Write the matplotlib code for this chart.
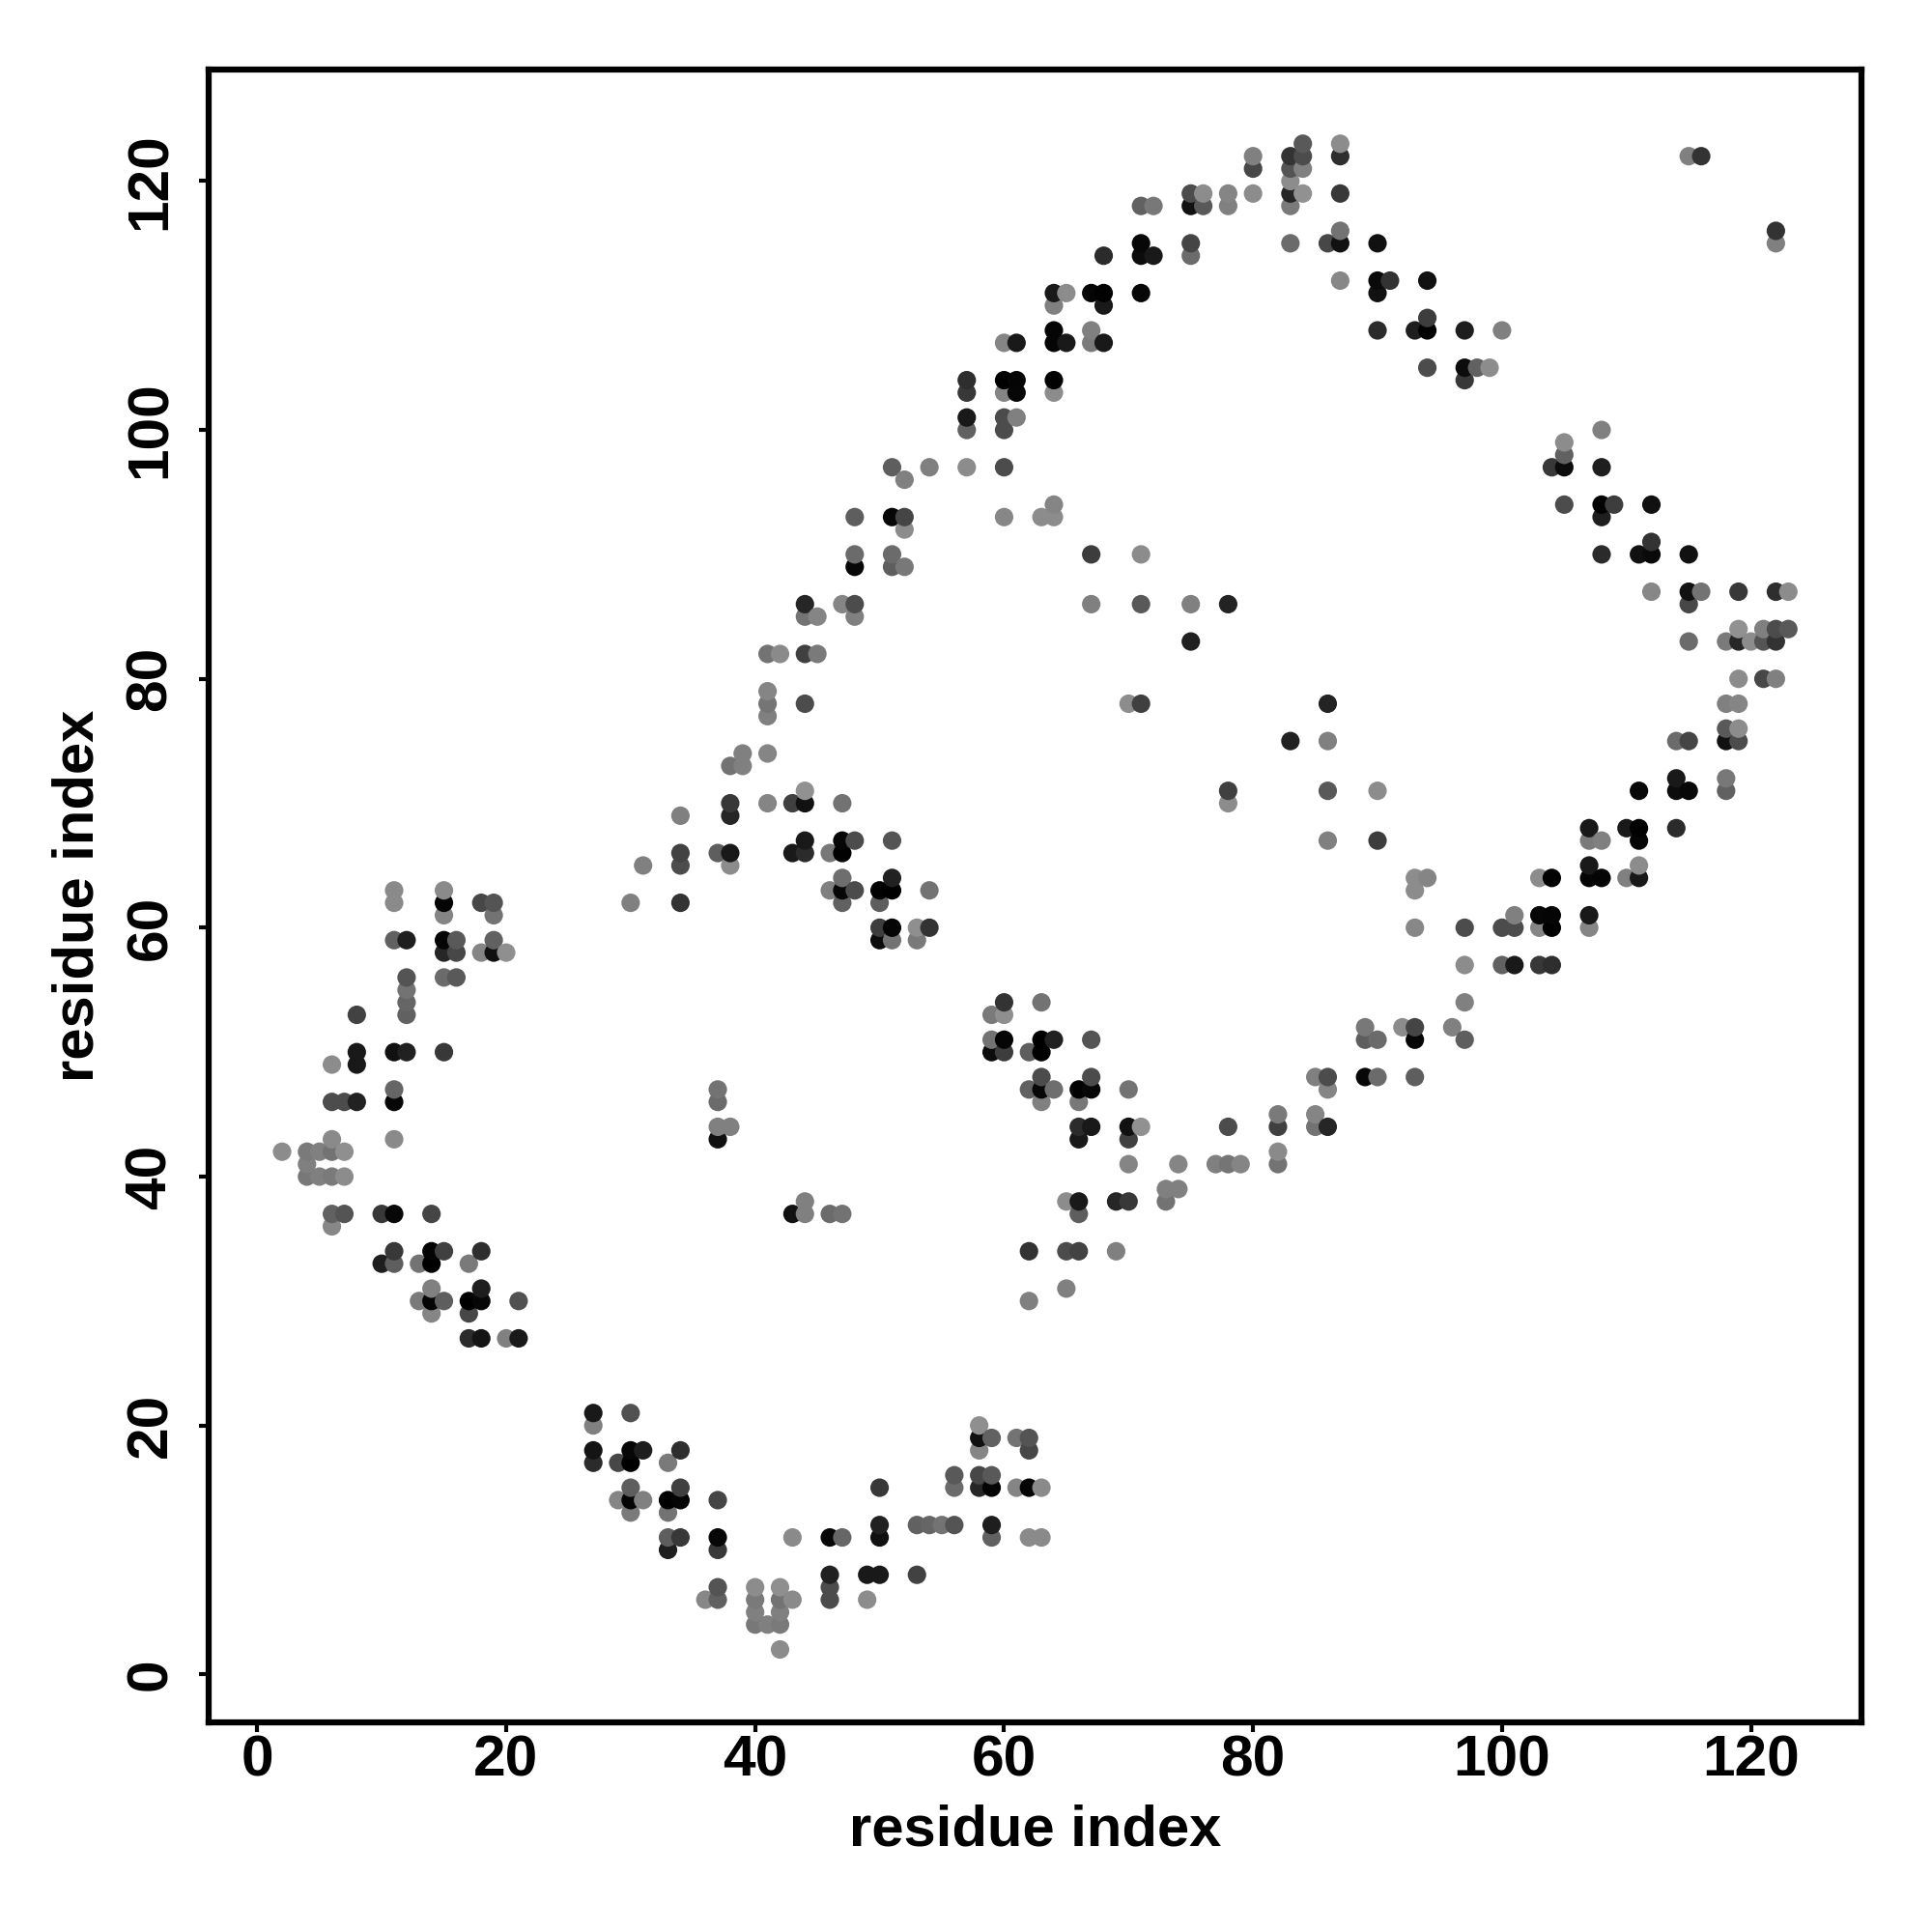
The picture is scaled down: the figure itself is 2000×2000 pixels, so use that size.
import numpy as np
import matplotlib
matplotlib.use("Agg")
import matplotlib.pyplot as plt
from matplotlib.transforms import ScaledTranslation

plt.rcParams['font.family'] = ['Liberation Sans', 'DejaVu Sans']

res_i = [2,
         4, 4, 4,
         5, 5,
         6, 6, 6, 6, 6, 6, 6,
         7, 7, 7, 7,
         8, 8, 8, 8,
         10, 10,
         11, 11, 11, 11, 11, 11, 11, 11, 11, 11,
         12, 12, 12, 12, 12, 12,
         13, 13,
         14, 14, 14, 14, 14, 14,
         15, 15, 15, 15, 15, 15, 15, 15, 15,
         16, 16, 16,
         17, 17, 17, 17,
         18, 18, 18, 18, 18, 18,
         19, 19, 19, 19,
         20, 20,
         21, 21,
         30, 31,
         34, 34, 34, 34,
         37, 37, 37, 37, 37,
         38, 38, 38, 38, 38, 38,
         39, 39,
         41, 41, 41, 41, 41, 41,
         42,
         43, 43,
         44, 44, 44, 44, 44, 44, 44, 44,
         45, 45,
         46, 46,
         47, 47, 47, 47, 47, 47, 47,
         48, 48, 48, 48, 48, 48, 48,
         50, 50, 50, 50,
         51, 51, 51, 51, 51, 51, 51, 51, 51,
         52, 52, 52, 52,
         53, 53,
         54, 54, 54,
         57, 57, 57, 57, 57,
         60, 60, 60, 60, 60, 60, 60,
         61, 61, 61, 61,
         63,
         64, 64, 64, 64, 64, 64, 64, 64,
         65, 65,
         67, 67, 67, 67, 67,
         68, 68, 68, 68,
         70,
         71, 71, 71, 71, 71, 71, 71,
         72, 72,
         75, 75, 75, 75, 75, 75,
         76, 76,
         78, 78, 78,
         80, 80, 80,
         83, 83, 83, 83, 83, 83,
         84, 84, 84, 84,
         86,
         87, 87, 87, 87, 87, 87,
         90, 90, 90, 90,
         91, 93,
         94, 94, 94, 94,
         97, 97, 97,
         98, 99, 100, 115, 116]

res_j = [42,
         40, 41, 42,
         40, 42,
         36, 37, 40, 42, 43, 46, 49,
         37, 40, 42, 46,
         46, 49, 50, 53,
         33, 37,
         33, 34, 37, 43, 46, 47, 50, 59, 62, 63,
         50, 53, 54, 55, 56, 59,
         30, 33,
         29, 30, 31, 33, 34, 37,
         30, 34, 50, 56, 58, 59, 61, 62, 63,
         56, 58, 59,
         27, 29, 30, 33,
         27, 30, 31, 34, 58, 62,
         58, 59, 61, 62,
         27, 58,
         27, 30,
         62, 65,
         62, 65, 66, 69,
         43, 44, 46, 47, 66,
         44, 65, 66, 69, 70, 73,
         73, 74,
         70, 74, 77, 78, 79, 82,
         82,
         66, 70,
         66, 67, 70, 71, 78, 82, 85, 86,
         82, 85,
         63, 66,
         62, 63, 64, 66, 67, 70, 86,
         63, 67, 85, 86, 89, 90, 93,
         59, 60, 62, 63,
         59, 60, 63, 64, 67, 89, 90, 93, 97,
         89, 92, 93, 96,
         59, 60,
         60, 63, 97,
         97, 100, 101, 103, 104,
         93, 97, 100, 101, 103, 104, 107,
         101, 103, 104, 107,
         93,
         93, 94, 103, 104, 107, 108, 110, 111,
         107, 111,
         86, 90, 107, 108, 111,
         107, 110, 111, 114,
         78,
         78, 86, 90, 111, 114, 115, 118,
         114, 118,
         83, 86, 114, 115, 118, 119,
         118, 119,
         86, 118, 119,
         119, 121, 122,
         115, 118, 119, 120, 121, 122,
         119, 121, 122, 123,
         115,
         112, 115, 116, 119, 122, 123,
         108, 111, 112, 115,
         112, 108,
         105, 108, 109, 112,
         104, 105, 108,
         105, 105, 108, 122, 122]

shade = [.55,
         .47, .50, .48,
         .50, .50,
         .53, .38, .48, .45, .54, .30, .55,
         .33, .55, .56, .30,
         .13, .10, .10, .26,
         .12, .22,
         .37, .22, .03, .54, .03, .40, .07, .38, .54, .54,
         .13, .38, .40, .45, .33, .12,
         .48, .45,
         .52, .02, .50, .00, .02, .27,
         .37, .25, .22, .42, .15, .02, .52, .02, .54,
         .35, .28, .35,
         .17, .28, .00, .48,
         .08, .03, .12, .18, .52, .28,
         .07, .38, .45, .33,
         .50, .56,
         .10, .32,
         .50, .50,
         .20, .30, .26, .50,
         .07, .50, .42, .45, .37,
         .50, .55, .10, .15, .22, .45,
         .50, .50,
         .52, .52, .50, .46, .52, .45,
         .54,
         .10, .25,
         .17, .10, .07, .57, .30, .25, .45, .15,
         .48, .52,
         .50, .47,
         .38, .03, .43, .01, .03, .45, .52,
         .30, .30, .50, .30, .03, .42, .37,
         .05, .24, .37, .01,
         .45, .02, .00, .13, .33, .37, .42, .03, .37,
         .47, .55, .27, .50,
         .48, .56,
         .20, .45, .50,
         .55, .38, .10, .22, .18,
         .53, .30, .30, .30, .52, .00, .52,
         .50, .03, .02, .10,
         .55,
         .55, .52, .55, .01, .02, .02, .50, .10,
         .10, .55,
         .50, .24, .48, .50, .02,
         .10, .10, .01, .17,
         .55,
         .25, .35, .55, .03, .05, .03, .38,
         .10, .47,
         .13, .50, .42, .27, .07, .30,
         .35, .55,
         .14, .50, .52,
         .55, .28, .50,
         .42, .48, .15, .55, .33, .20,
         .57, .50, .30, .35,
         .28,
         .53, .07, .45, .22, .18, .55,
         .17, .07, .04, .07,
         .20, .12,
         .30, .01, .24, .07,
         .22, .05, .12,
         .38, .55, .50, .50, .20]

tick_values = [0, 20, 40, 60, 80, 100, 120]

# el mapa es simetrico: cada contacto sale a los dos lados de la diagonal
x = np.array(res_i + res_j)
y = np.array(res_j + res_i)
g = np.array(shade + shade)
orden = np.lexsort((y, x))

fig = plt.figure(figsize=(20, 20), dpi=100)
ax = fig.add_axes([216 / 2000, 1 - 1783 / 2000, (1927.3 - 216) / 2000, (1783 - 71.5) / 2000])

ax.scatter(x[orden], y[orden], c=g[orden], cmap='gray', vmin=0, vmax=1, s=190, linewidths=0, zorder=3)

ax.set_xlim(-3.9, 128.9)
ax.set_ylim(-3.86, 129.0)
ax.set_xticks(tick_values)
ax.set_yticks(tick_values)
ax.tick_params(length=7, width=3, labelsize=43.5, pad=2)
for lab in ax.get_xticklabels():
    lab.set_fontweight('bold')

# subir un poco las etiquetas giradas para centrarlas en la marca
subir = ScaledTranslation(0, 3.5 / 100, fig.dpi_scale_trans)
for lab in ax.get_yticklabels():
    lab.set_fontweight('bold')
    lab.set_rotation(90)
    lab.set_verticalalignment('center')
    lab.set_transform(lab.get_transform() + subir)
ax.tick_params(axis='y', pad=16)

for s in ax.spines.values():
    s.set_linewidth(4.5)

ax.set_xlabel("residue index", fontsize=43, fontweight='bold', labelpad=12)
ax.set_ylabel("residue index", fontsize=43, fontweight='bold', labelpad=15)

plt.savefig("out.png", dpi=100)
